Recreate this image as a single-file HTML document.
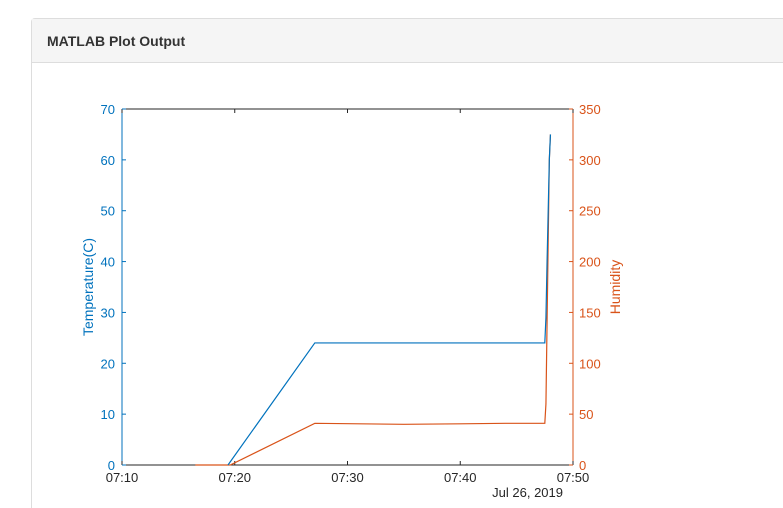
<!DOCTYPE html>
<html><head><meta charset="utf-8"><style>
html,body{margin:0;width:783px;height:508px;background:#fff;overflow:hidden;font-family:"Liberation Sans",sans-serif}
.card{position:absolute;left:31px;top:18px;width:752px;height:490px;border:1px solid #ddd;border-right:none;border-bottom:none;border-radius:4px 0 0 0;box-sizing:border-box}
.hdr{height:43px;background:#f5f5f5;border-bottom:1px solid #ddd;font-weight:bold;font-size:14px;line-height:44px;padding-left:15px;color:#333}
</style></head><body>
<div class="card"><div class="hdr">MATLAB Plot Output</div></div>
<svg id="chart" width="783" height="508" style="position:absolute;left:0;top:0"></svg>
<script>
const xTicks=[0,10,20,30,40];
const xTickLabels=["07:10","07:20","07:30","07:40","07:50"];
const yLeftTicks=[0,10,20,30,40,50,60,70];
const yRightTicks=[0,50,100,150,200,250,300,350];
const tempT=[9.4,17.1,37.5,37.6,37.7,37.8,37.9,38.0];
const tempV=[0,24,24,29,40,50,60,65];
const humT=[6.5,9.6,17.1,25,30,34,37.5,37.6,37.9,38.0];
const humV=[0,0,41,40,40.5,41,41,60,300,325];
const L=122,R=573,T=109,B=465,blue="#0072bd",orange="#d95319";
const sx=t=>L+(t/40)*(R-L), syl=v=>B-(v/70)*(B-T), syr=v=>B-(v/350)*(B-T);
const svg=document.getElementById('chart');const NS="http://www.w3.org/2000/svg";
function mk(tag,a,txt){const e=document.createElementNS(NS,tag);for(const k in a)e.setAttribute(k,a[k]);if(txt!==undefined)e.textContent=txt;svg.appendChild(e);return e;}
let e;
e=mk('rect',{x:L,y:T,width:R-L,height:B-T,fill:'#fff',stroke:'none'});


e=mk('line',{x1:L,y1:T,x2:R,y2:T,stroke:'#262626'});


e=mk('line',{x1:L,y1:B,x2:R,y2:B,stroke:'#262626'});


e=mk('line',{x1:L,y1:T,x2:L,y2:B,stroke:blue});


e=mk('line',{x1:R,y1:T,x2:R,y2:B,stroke:orange});


xTicks.forEach((t,i)=>{const x=sx(t);
mk('line',{x1:x,y1:B,x2:x,y2:B-4,stroke:'#262626'});mk('line',{x1:x,y1:T,x2:x,y2:T+4,stroke:'#262626'});
e=mk('text',{x:x,y:B+17,'text-anchor':'middle','font-size':13,fill:'#262626'},xTickLabels[i]);

});
e=mk('text',{x:563,y:497,'text-anchor':'end','font-size':13,fill:'#262626'},'Jul 26, 2019');


yLeftTicks.forEach(v=>{const y=syl(v);mk('line',{x1:L,y1:y,x2:L+4,y2:y,stroke:blue});
e=mk('text',{x:L-7,y:y+5,'text-anchor':'end','font-size':13,fill:blue},v);

});
yRightTicks.forEach(v=>{const y=syr(v);mk('line',{x1:R,y1:y,x2:R-4,y2:y,stroke:orange});
e=mk('text',{x:R+6,y:y+5,'font-size':13,fill:orange},v);

});
e=mk('text',{x:93,y:287,'text-anchor':'middle','font-size':14,fill:blue,transform:'rotate(-90 93 287)'},'Temperature(C)');


e=mk('text',{x:620,y:287,'text-anchor':'middle','font-size':14,fill:orange,transform:'rotate(-90 620 287)'},'Humidity');


e=mk('polyline',{points:humT.map((t,i)=>sx(t)+','+syr(humV[i])).join(' '),fill:'none',stroke:orange,'stroke-width':1.2});


e=mk('polyline',{points:tempT.map((t,i)=>sx(t)+','+syl(tempV[i])).join(' '),fill:'none',stroke:blue,'stroke-width':1.2});


</script>
</body></html>
